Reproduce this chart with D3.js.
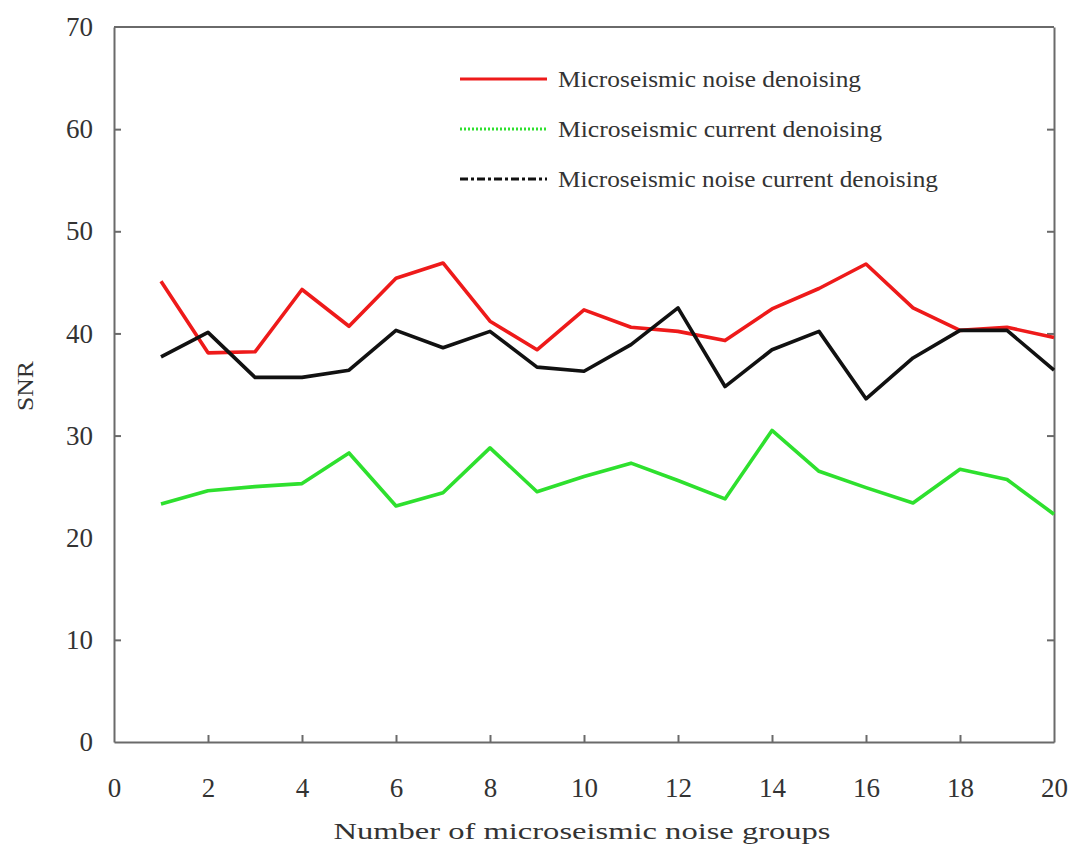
<!DOCTYPE html>
<html>
  <head>
    <meta charset="utf-8">
    <title>SNR by microseismic noise group</title>
    <script src="https://d3js.org/d3.v7.min.js"></script>
    <style>
      body { margin: 0; background: #fff; }
      svg { display: block; font-family: "Liberation Serif", "Times New Roman", serif; }
      .tick text { fill: #333; font-size: 27px; font-family: "Liberation Serif", "Times New Roman", serif; }
      .axis path, .axis line { stroke: #6a6a6a; stroke-width: 2; }
      .plot { fill: none; stroke-width: 3.6; stroke-linejoin: round; }
      .label { fill: #333; }
    </style>
  </head>
  <body>
    <svg id="chart" width="1069" height="851"></svg>
    <script>
      // chart data
      var groups = d3.range(1, 21);
      var noiseDenoising   = [45.1, 38.1, 38.2, 44.3, 40.7, 45.4, 46.9, 41.2, 38.4, 42.3, 40.6, 40.2, 39.3, 42.4, 44.4, 46.8, 42.5, 40.3, 40.6, 39.6];
      var currentDenoising = [23.3, 24.6, 25.0, 25.3, 28.3, 23.1, 24.4, 28.8, 24.5, 26.0, 27.3, 25.6, 23.8, 30.5, 26.5, 24.9, 23.4, 26.7, 25.7, 22.3];
      var bothDenoising    = [37.7, 40.1, 35.7, 35.7, 36.4, 40.3, 38.6, 40.2, 36.7, 36.3, 38.9, 42.5, 34.8, 38.4, 40.2, 33.6, 37.6, 40.3, 40.3, 36.4];
      var seriesNames = ["Microseismic noise denoising", "Microseismic current denoising", "Microseismic noise current denoising"];
      var seriesColors = ["#ee1a1a", "#2ee02e", "#111111"];
      var legendDash = [null, "2 2", "8 3 3 3"];
      var legendWidths = [303, 324, 380];
      var xTicks = [0, 2, 4, 6, 8, 10, 12, 14, 16, 18, 20];
      var yTicks = [0, 10, 20, 30, 40, 50, 60, 70];

      var margin = { top: 27, right: 15, bottom: 109, left: 114 };
      var width = 1069, height = 851;
      var chart = d3.select("#chart");

      var x = d3.scaleLinear().domain([0, 20]).range([margin.left, width - margin.right]);
      var y = d3.scaleLinear().domain([0, 70]).range([height - margin.bottom, margin.top]);

      // axes, ticks pointing inward
      var xAxis = d3.axisBottom(x).tickValues(xTicks).tickSizeInner(-7).tickSizeOuter(0).tickPadding(36);
      var yAxis = d3.axisLeft(y).tickValues(yTicks).tickSizeInner(-7).tickSizeOuter(0).tickPadding(21);
      var yAxisRight = d3.axisRight(y).tickValues(yTicks).tickSizeInner(-7).tickSizeOuter(0).tickFormat("");

      chart.append("g").attr("class", "axis")
        .attr("transform", "translate(0," + y(0) + ")")
        .call(xAxis);
      chart.append("g").attr("class", "axis")
        .attr("transform", "translate(" + x(0) + ",0)")
        .call(yAxis);
      chart.append("g").attr("class", "axis")
        .attr("transform", "translate(" + x(20) + ",0)")
        .call(yAxisRight);
      chart.append("line")
        .attr("x1", x(0)).attr("x2", x(20))
        .attr("y1", y(70)).attr("y2", y(70))
        .attr("stroke", "#6a6a6a").attr("stroke-width", 2);
      chart.selectAll(".tick line").filter(function(d) { return d === 0 || d === 70 || d === 20; }).remove();

      // lines
      var line = d3.line()
        .x(function(d, i) { return x(groups[i]); })
        .y(function(d) { return y(d); });
      [noiseDenoising, currentDenoising, bothDenoising].forEach(function(s, i) {
        chart.append("path")
          .attr("class", "plot")
          .attr("stroke", seriesColors[i])
          .attr("d", line(s));
      });

      // legend
      var legend = chart.append("g");
      seriesNames.forEach(function(name, i) {
        var ly = 79 + i * 50;
        legend.append("line")
          .attr("x1", 460).attr("x2", 547)
          .attr("y1", ly).attr("y2", ly)
          .attr("stroke", seriesColors[i])
          .attr("stroke-width", 3)
          .attr("stroke-dasharray", legendDash[i]);
        legend.append("text")
          .attr("class", "label")
          .attr("x", 558).attr("y", ly + 8)
          .attr("font-size", 23)
          .attr("textLength", legendWidths[i])
          .attr("lengthAdjust", "spacingAndGlyphs")
          .text(name);
      });

      // axis titles
      chart.append("text")
        .attr("class", "label")
        .attr("x", 582).attr("y", 839)
        .attr("text-anchor", "middle")
        .attr("font-size", 23)
        .attr("textLength", 497)
        .attr("lengthAdjust", "spacingAndGlyphs")
        .text("Number of microseismic noise groups");
      chart.append("text")
        .attr("class", "label")
        .attr("transform", "translate(33,386) rotate(-90)")
        .attr("text-anchor", "middle")
        .attr("font-size", 23)
        .attr("textLength", 50)
        .attr("lengthAdjust", "spacingAndGlyphs")
        .text("SNR");
    </script>
  </body>
</html>
